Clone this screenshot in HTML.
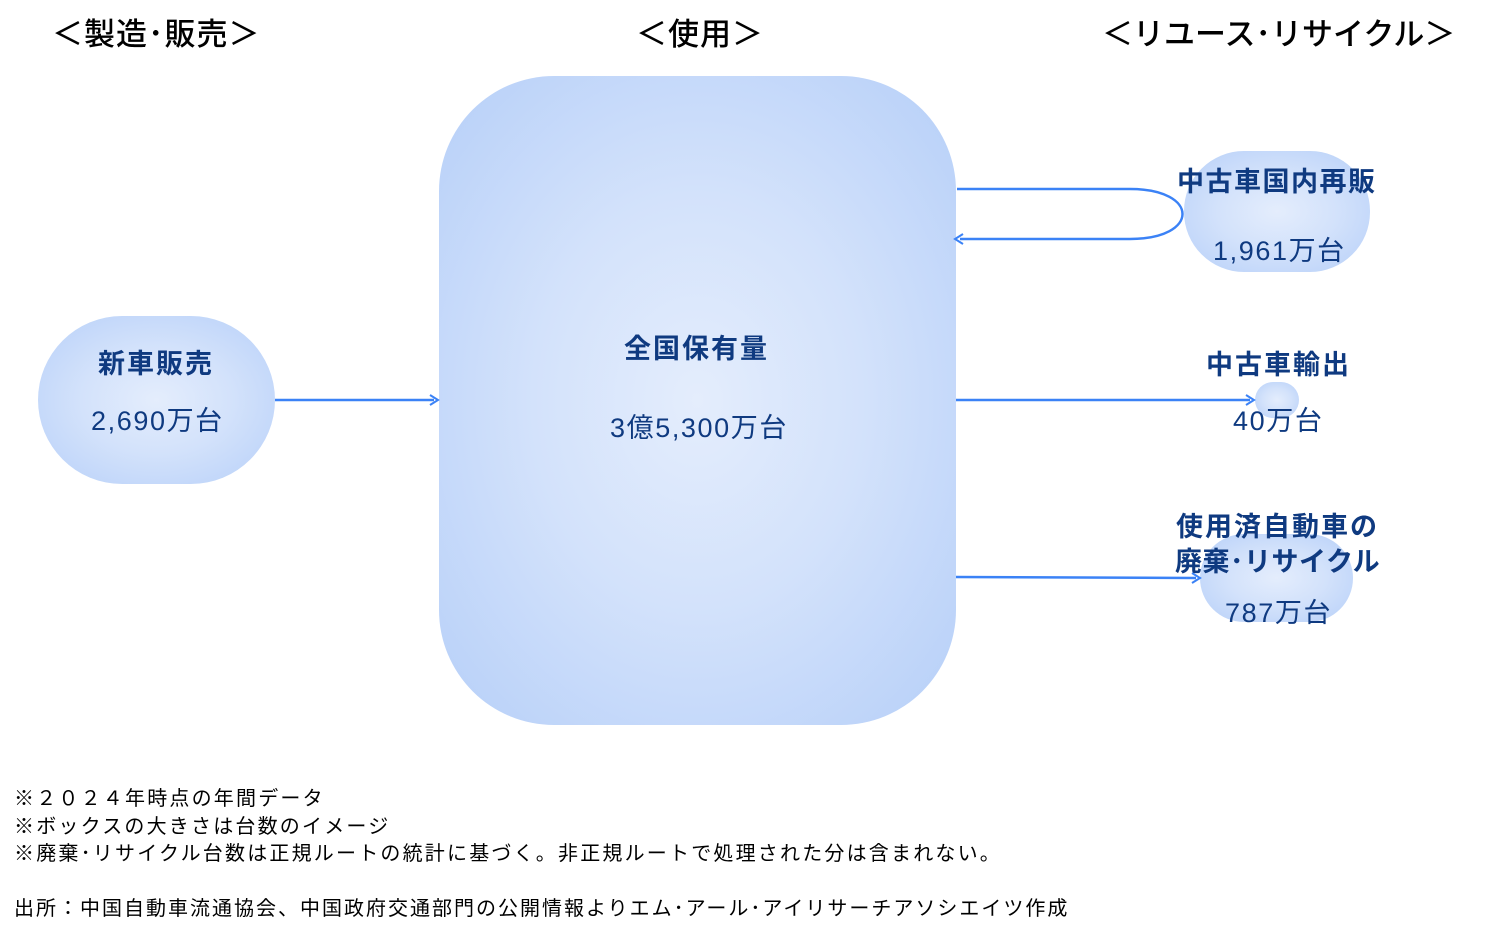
<!DOCTYPE html>
<html><head><meta charset="utf-8"><style>
body{margin:0;width:1505px;height:935px;background:#fff;position:relative;overflow:hidden;font-family:"Liberation Sans","Noto Sans CJK JP",sans-serif;}
.t{position:absolute;white-space:nowrap;}
.h{font-size:31px;color:#000;font-weight:500;letter-spacing:1px;}
.b{position:absolute;background:radial-gradient(ellipse at center,#e4edfc 0%,#d3e2fb 45%,#b6cff8 100%);}
.lab{position:absolute;color:#0f3a80;font-weight:bold;font-size:27px;white-space:nowrap;letter-spacing:2px;}
.num{position:absolute;color:#0f3a80;font-size:27px;white-space:nowrap;letter-spacing:1.6px;}
.note{position:absolute;left:14px;font-size:20px;color:#000;white-space:nowrap;letter-spacing:2.2px;}
</style></head><body>
<div class="t h" style="left:52px;top:9px;">＜製造･販売＞</div>
<div class="t h" style="left:636px;top:9px;">＜使用＞</div>
<div class="t h" style="left:1102px;top:9px;letter-spacing:0;">＜リユース･リサイクル＞</div>

<div class="b" style="left:439px;top:76px;width:517px;height:649px;border-radius:115px;"></div>
<div class="b" style="left:38px;top:316px;width:237px;height:168px;border-radius:84px;"></div>
<div class="b" style="left:1184px;top:151px;width:186px;height:121px;border-radius:60px;"></div>
<div class="b" style="left:1255px;top:382px;width:44px;height:36px;border-radius:18px;"></div>
<div class="b" style="left:1200px;top:534px;width:153px;height:88px;border-radius:44px;"></div>

<svg style="position:absolute;left:0;top:0" width="1505" height="935">
<g stroke="#3b82f6" stroke-width="2.5" fill="none">
<line x1="275" y1="400" x2="434" y2="400"/>
<path d="M957 189 H1130 C1200 189 1200 239 1130 239 H960"/>
<line x1="956" y1="400" x2="1250" y2="400"/>
<line x1="956" y1="577" x2="1196" y2="578"/>
</g>
<g stroke="#3b82f6" stroke-width="2" fill="none">
<path d="M430 395 L438 400 L430 405"/>
<path d="M963 234 L955 239 L963 244"/>
<path d="M1246 395 L1254 400 L1246 405"/>
<path d="M1192 573 L1200 578 L1192 583"/>
</g>
</svg>

<div class="lab" style="left:98px;top:342px;">新車販売</div>
<div class="num" style="left:91px;top:399px;">2,690万台</div>
<div class="lab" style="left:624px;top:327px;">全国保有量</div>
<div class="num" style="left:610px;top:406px;">3億5,300万台</div>
<div class="lab" style="left:1177px;top:160px;letter-spacing:1.5px;">中古車国内再販</div>
<div class="num" style="left:1213px;top:229px;">1,961万台</div>
<div class="lab" style="left:1206px;top:343px;">中古車輸出</div>
<div class="num" style="left:1233px;top:399px;">40万台</div>
<div class="lab" style="left:1176px;top:505px;">使用済自動車の</div>
<div class="lab" style="left:1175px;top:540px;letter-spacing:0.5px;">廃棄･リサイクル</div>
<div class="num" style="left:1225px;top:591px;">787万台</div>

<div class="note" style="top:782px;">※２０２４年時点の年間データ</div>
<div class="note" style="top:810px;">※ボックスの大きさは台数のイメージ</div>
<div class="note" style="top:837px;">※廃棄･リサイクル台数は正規ルートの統計に基づく。非正規ルートで処理された分は含まれない。</div>
<div class="note" style="top:892px;letter-spacing:2px;">出所：中国自動車流通協会、中国政府交通部門の公開情報よりエム･アール･アイリサーチアソシエイツ作成</div>
</body></html>
